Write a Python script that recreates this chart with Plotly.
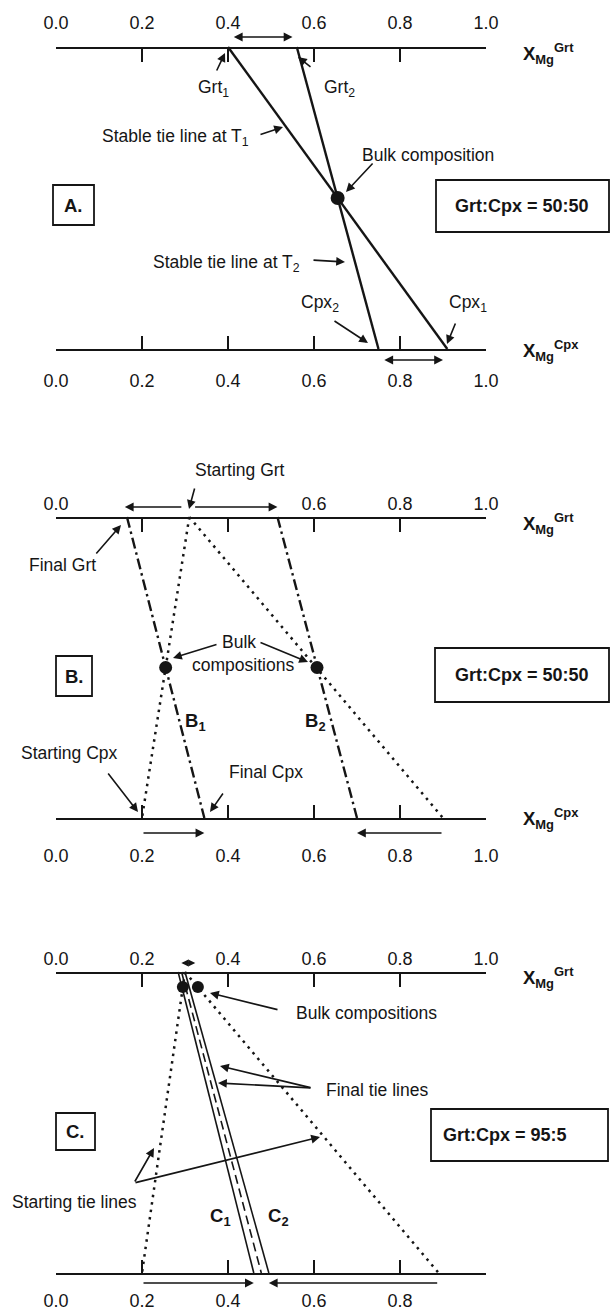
import plotly.graph_objects as go

# ---------------- data (compositions) ----------------
tick_vals = [0.0, 0.2, 0.4, 0.6, 0.8, 1.0]
tick_text = ["0.0", "0.2", "0.4", "0.6", "0.8", "1.0"]
tick_text_b_top = ["0.0", "", "", "0.6", "0.8", "1.0"]
tick_text_c_bot = ["0.0", "0.2", "0.4", "0.6", "0.8", ""]

# Panel A  (Grt:Cpx = 50:50)
A_grt = [0.40, 0.56]          # Grt1, Grt2
A_cpx = [0.91, 0.75]          # Cpx1, Cpx2
A_bulk = [0.655]
A_cpx_frac = 0.50

# Panel B  (Grt:Cpx = 50:50)
B_start_grt = [0.31, 0.31]
B_start_cpx = [0.20, 0.90]
B_final_grt = [0.165, 0.515]
B_final_cpx = [0.345, 0.70]
B_bulk = [0.255, 0.607]
B_cpx_frac = 0.50

# Panel C  (Grt:Cpx = 95:5)
C_start_grt = [0.30, 0.30]
C_start_cpx = [0.20, 0.89]
C_final_grt = [0.284, 0.300]
C_final_cpx = [0.460, 0.495]
C_mid_grt = [0.292]
C_mid_cpx = [0.4775]
C_bulk = [0.295, 0.33]
C_cpx_frac = 0.05

# ---------------- layout constants ----------------
W, H = 611, 1310
X0, X1 = 56, 486                      # pixel position of composition 0 and 1
FONT = "Liberation Sans, Arial, sans-serif"
INK = "#151515"
YA = (47, 349)
YB = (517, 818)
YC = (972, 1273)
FS = 17.5


def dx(px):
    return (px - X0) / (X1 - X0)


def seg_xy(grts, cpxs, ytop, ybot):
    xs, ys = [], []
    for g, c in zip(grts, cpxs):
        xs += [g, c, None]
        ys += [ytop, ybot, None]
    return xs, ys


fig = go.Figure()


def lines(grts, cpxs, yy, width, dash):
    xs, ys = seg_xy(grts, cpxs, yy[0], yy[1])
    fig.add_trace(go.Scatter(x=xs, y=ys, mode="lines",
                             line=dict(color=INK, width=width, dash=dash),
                             hoverinfo="skip", showlegend=False))


def dots(bulk, yy, frac, size):
    yb = yy[0] + frac * (yy[1] - yy[0])
    fig.add_trace(go.Scatter(x=bulk, y=[yb] * len(bulk), mode="markers",
                             marker=dict(color=INK, size=size),
                             hoverinfo="skip", showlegend=False, cliponaxis=False))


DOT = "2.5px,5px"
DASHDOT = "11px,4px,2.5px,4px"

# Panel A
lines(A_grt, A_cpx, YA, 2.4, "solid")
dots(A_bulk, YA, A_cpx_frac, 14)

# Panel B
lines(B_start_grt, B_start_cpx, YB, 2.5, DOT)
lines(B_final_grt, B_final_cpx, YB, 2.4, DASHDOT)
dots(B_bulk, YB, B_cpx_frac, 13)

# Panel C
lines(C_start_grt, C_start_cpx, YC, 2.5, DOT)
lines(C_final_grt, C_final_cpx, YC, 1.6, "solid")
lines(C_mid_grt, C_mid_cpx, YC, 1.6, "9px,5px")
dots(C_bulk, YC, C_cpx_frac, 12)

# ---------------- composition scales (real plotly axes) ----------------
scales = [
    (YA[0], "top", tick_text, 11),
    (YA[1], "bottom", tick_text, 15),
    (YB[0], "top", tick_text_b_top, 0),
    (YB[1], "bottom", tick_text, 21),
    (YC[0], "top", tick_text, 0),
    (YC[1], "bottom", tick_text_c_bot, 11),
]
layout_axes = {}
for i, (ypx, side, txts, standoff) in enumerate(scales):
    n = i + 2
    ax = dict(domain=[X0 / W, X1 / W], range=[0, 1], anchor="free",
              position=1 - ypx / H, side=side, showline=True, linecolor=INK,
              linewidth=1.7, ticks="inside", ticklen=13, tickwidth=1.7,
              tickcolor=INK, tickvals=tick_vals, ticktext=txts,
              tickfont=dict(size=18, family=FONT, color=INK),
              showgrid=False, zeroline=False, fixedrange=True,
              automargin=False, ticklabelstandoff=standoff)
    if n > 2:
        ax["overlaying"] = "x2"
    layout_axes[f"xaxis{n}"] = ax
    fig.add_trace(go.Scatter(x=tick_vals, y=[ypx] * len(tick_vals),
                             xaxis=f"x{n}", yaxis="y", mode="markers",
                             marker=dict(opacity=0), hoverinfo="skip",
                             showlegend=False))

annotations = []
shapes = []


def txt(px, py, s, size=FS, bold=False, xanchor="center"):
    if bold:
        s = "<b>" + s + "</b>"
    annotations.append(dict(x=dx(px), y=py, xref="x", yref="y", text=s,
                            showarrow=False, xanchor=xanchor, yanchor="middle",
                            font=dict(family=FONT, size=size, color=INK)))


def arrow(tail, head, both=False, data=False, width=1.6):
    tx, ty = tail
    hx, hy = head
    if not data:
        tx, hx = dx(tx), dx(hx)
    annotations.append(dict(x=hx, y=hy, ax=tx, ay=ty, xref="x", yref="y",
                            axref="x", ayref="y", text="", showarrow=True,
                            arrowhead=2, arrowsize=1.1, arrowwidth=width,
                            arrowcolor=INK, standoff=0, startstandoff=0,
                            arrowside="end+start" if both else "end"))


def box(x0, y0, x1, y1):
    shapes.append(dict(type="rect", xref="x", yref="y", x0=dx(x0), x1=dx(x1),
                       y0=y0, y1=y1, line=dict(color=INK, width=1.8)))


def xmg(py, phase):
    txt(521, py, "X<sub>Mg</sub><sup>" + phase + "</sup>", size=18.5, bold=True,
        xanchor="left")


# ---- Panel A annotations ----
xmg(YA[0] + 6, "Grt")
xmg(YA[1] + 1, "Cpx")
arrow((A_grt[0] + 0.01, 37), (A_grt[1] - 0.01, 37), both=True, data=True)
arrow((A_cpx[1] + 0.01, 360), (A_cpx[0] - 0.01, 360), both=True, data=True)
txt(213, 88, "Grt<sub>1</sub>")
arrow((216, 72), (225, 53))
txt(339, 88, "Grt<sub>2</sub>")
arrow((312, 68), (298, 57))
txt(175, 137, "Stable tie line at T<sub>1</sub>")
arrow((259, 135), (283, 127))
txt(428, 155, "Bulk composition")
arrow((374, 162), (346, 192))
txt(226, 263, "Stable tie line at T<sub>2</sub>")
arrow((312, 260), (345, 262))
txt(320, 303, "Cpx<sub>2</sub>")
arrow((333, 320), (368, 343))
txt(468, 303, "Cpx<sub>1</sub>")
arrow((456, 322), (447, 344))
box(53, 185, 94, 225)
txt(73.5, 205, "A.", size=18.5, bold=True)
box(436, 180, 609, 232)
txt(522, 206, "Grt:Cpx = 50:50", size=18, bold=True)

# ---- Panel B annotations ----
xmg(YB[0] + 6, "Grt")
xmg(YB[1], "Cpx")
txt(240, 470, "Starting Grt")
arrow((195, 487), (189, 509))
arrow((B_start_grt[0] - 0.015, 507), (B_final_grt[0] - 0.005, 507), data=True)
arrow((B_start_grt[1] + 0.01, 507), (B_final_grt[1], 507), data=True)
txt(62, 565, "Final Grt")
arrow((95, 555), (121, 525))
txt(239, 642, "Bulk")
txt(243, 665, "compositions")
arrow((218, 644), (173, 658))
arrow((259, 642), (308, 662))
txt(195, 722, "B<sub>1</sub>", size=18.5, bold=True)
txt(315, 722, "B<sub>2</sub>", size=18.5, bold=True)
txt(69, 753, "Starting Cpx")
arrow((107, 772), (138, 812))
txt(266, 772, "Final Cpx")
arrow((224, 792), (210, 812))
arrow((B_start_cpx[0], 833), (B_final_cpx[0], 833), data=True)
arrow((B_start_cpx[1], 833), (B_final_cpx[1], 833), data=True)
box(56, 656, 92, 696)
txt(74, 676, "B.", size=18.5, bold=True)
box(435, 648, 609, 702)
txt(522, 675, "Grt:Cpx = 50:50", size=18, bold=True)

# ---- Panel C annotations ----
xmg(YC[0] + 5, "Grt")
arrow((C_start_grt[0] - 0.012, 963), (C_start_grt[0] + 0.024, 963), both=True,
      data=True, width=1.3)
txt(366, 1013, "Bulk compositions")
arrow((279, 1010), (210, 993))
txt(377, 1090, "Final tie lines")
arrow((312, 1088), (220, 1066))
arrow((312, 1088), (218, 1083))
box(56, 1113, 95, 1150)
txt(75.5, 1131, "C.", size=18.5, bold=True)
box(431, 1109, 608, 1161)
txt(505, 1135, "Grt:Cpx = 95:5", size=18, bold=True)
txt(74, 1202, "Starting tie lines")
arrow((134, 1183), (154, 1148))
arrow((134, 1183), (320, 1137))
txt(220, 1217, "C<sub>1</sub>", size=18.5, bold=True)
txt(278, 1217, "C<sub>2</sub>", size=18.5, bold=True)
arrow((C_start_cpx[0], 1283), (C_final_cpx[0], 1283), data=True)
arrow((C_start_cpx[1], 1283), (C_final_cpx[1], 1283), data=True)

fig.update_layout(
    width=W, height=H, autosize=False,
    margin=dict(l=0, r=0, t=0, b=0, pad=0, autoexpand=False),
    paper_bgcolor="white", plot_bgcolor="rgba(0,0,0,0)",
    showlegend=False,
    xaxis=dict(domain=[0, 1], range=[dx(0), dx(W)], visible=False,
               fixedrange=True, automargin=False),
    yaxis=dict(domain=[0, 1], range=[H, 0], visible=False, fixedrange=True,
               automargin=False),
    annotations=annotations, shapes=shapes,
    **layout_axes,
)

fig.write_html(
    "out.html",
    config={"displayModeBar": False, "staticPlot": True},
    post_script="document.body.style.margin='0';document.body.style.overflow='hidden';",
)
